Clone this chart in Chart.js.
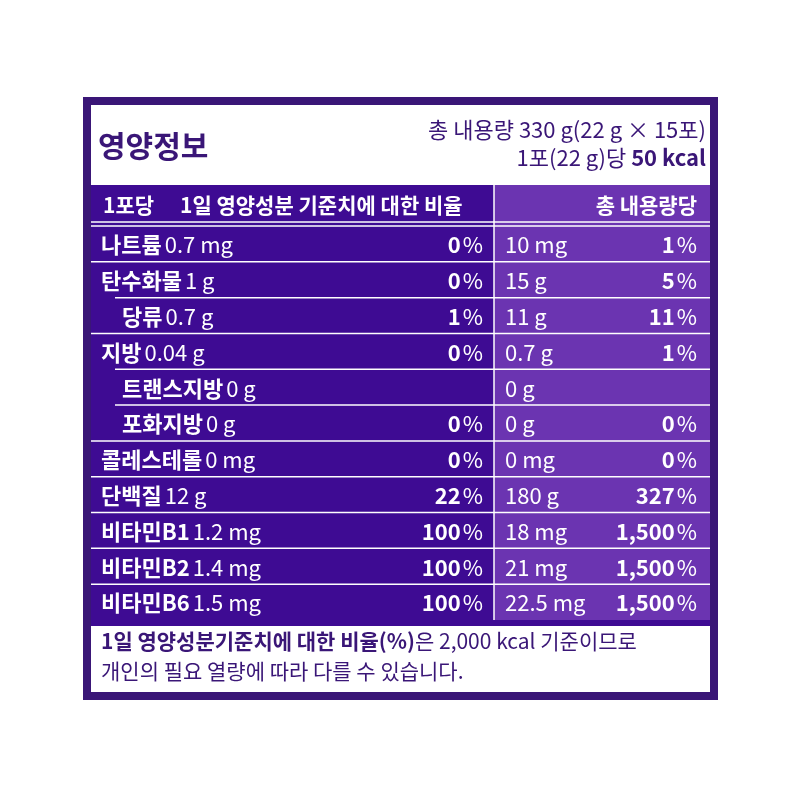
<!DOCTYPE html>
<html><head><meta charset="utf-8">
<script src="https://cdn.jsdelivr.net/npm/chart.js@4/dist/chart.umd.min.js"></script>
<style>html,body{margin:0;background:#fff}#w{width:800px;height:800px}</style>
</head><body><div id="w"><canvas id="c" width="800" height="800"></canvas></div>
<script>
const rowNames = ['나트륨','탄수화물','당류','지방','트랜스지방','포화지방','콜레스테롤','단백질','비타민B1','비타민B2','비타민B6'];
const perPackAmount = ['0.7 mg','1 g','0.7 g','0.04 g','0 g','0 g','0 mg','12 g','1.2 mg','1.4 mg','1.5 mg'];
const perPackPct = ['0','0','1','0','','0','0','22','100','100','100'];
const totalAmount = ['10 mg','15 g','11 g','0.7 g','0 g','0 g','0 mg','180 g','18 mg','21 mg','22.5 mg'];
const totalPct = ['1','5','11','1','','0','0','327','1,500','1,500','1,500'];
const subRow = [false,false,true,false,true,true,false,false,false,false,false];
const groupStart = [true,true,false,true,false,false,true,true,true,true,true];

const DARK='#3e0b93', LIGHT='#6b34b1', INK='#3a1677';
const F='"Noto Sans CJK KR","Noto Sans",sans-serif';

const tablePlugin = {
  id:'table',
  beforeDraw(chart){
    const ctx=chart.ctx, y=chart.scales.y;
    const L=91,R=710,M=494;
    ctx.save();
    ctx.fillStyle=INK; ctx.fillRect(83,97,635,603);
    ctx.fillStyle='#fff'; ctx.fillRect(91,105,619,587);
    ctx.fillStyle=INK; ctx.font='bold 30px '+F; ctx.textBaseline='middle'; ctx.textAlign='left';
    ctx.fillText('영양정보',98,146);
    ctx.textAlign='right'; ctx.font='22px '+F;
    ctx.fillText('총 내용량 330 g(22 g × 15포)',706,130);
    const k='50 kcal'; ctx.font='bold 22px '+F; const kw=ctx.measureText(k).width;
    ctx.fillText(k,706,158); ctx.font='22px '+F; ctx.fillText('1포(22 g)당 ',706-kw,158);
    const top=y.getPixelForValue(0)-y.height/22;
    const bot=y.getPixelForValue(10)+y.height/22;
    ctx.fillStyle=DARK; ctx.fillRect(L,185,M-L,top-185); ctx.fillStyle=LIGHT; ctx.fillRect(M,185,R-M,top-185);
    ctx.fillStyle=DARK; ctx.fillRect(L,top,M-L,bot-top); ctx.fillStyle=LIGHT; ctx.fillRect(M,top,R-M,bot-top);
    ctx.fillStyle=DARK; ctx.fillRect(L,bot,R-L,6);
    ctx.fillStyle='#fff'; ctx.font='bold 21px '+F; ctx.textAlign='left';
    ctx.fillText('1포당',103,205); ctx.fillText('1일 영양성분 기준치에 대한 비율',180,205);
    ctx.textAlign='right'; ctx.fillText('총 내용량당',697,205);
    ctx.strokeStyle='#fff'; ctx.lineWidth=1.5;
    ctx.beginPath(); ctx.moveTo(L,top-4); ctx.lineTo(R,top-4); ctx.stroke();
    ctx.beginPath(); ctx.moveTo(M,185); ctx.lineTo(M,bot); ctx.stroke();
    const rh=y.height/11;
    rowNames.forEach((n,i)=>{
      const cy=y.getPixelForValue(i);
      const ty=cy-rh/2;
      ctx.strokeStyle='#fff'; ctx.lineWidth=1.5;
      ctx.beginPath(); ctx.moveTo(groupStart[i]?L:115,ty); ctx.lineTo(R,ty); ctx.stroke();
      ctx.fillStyle='#fff'; ctx.textAlign='left';
      const x0=subRow[i]?122:101;
      ctx.font='bold 22px '+F; ctx.fillText(n,x0,cy+1);
      const w=ctx.measureText(n).width;
      ctx.font='22px '+F; ctx.fillText(perPackAmount[i],x0+w+3,cy+1);
      ctx.fillText(totalAmount[i],505,cy+1);
      ctx.textAlign='right';
      if(perPackPct[i]!==''){ctx.font='22px '+F; ctx.fillText('%',483,cy+1); const pw=ctx.measureText('%').width; ctx.font='bold 22px '+F; ctx.fillText(perPackPct[i],481-pw,cy+1);}
      if(totalPct[i]!==''){ctx.font='22px '+F; ctx.fillText('%',697,cy+1); const pw=ctx.measureText('%').width; ctx.font='bold 22px '+F; ctx.fillText(totalPct[i],695-pw,cy+1);}
    });
    ctx.fillStyle=INK; ctx.textAlign='left';
    const a='1일 영양성분기준치에 대한 비율(%)'; ctx.font='bold 21px '+F; ctx.fillText(a,101,641);
    const aw=ctx.measureText(a).width; ctx.font='21px '+F; ctx.fillText('은 2,000 kcal 기준이므로',101+aw,641);
    ctx.fillText('개인의 필요 열량에 따라 다를 수 있습니다.',101,671);
    ctx.restore();
  }
};

new Chart(document.getElementById('c'),{
  type:'bar',
  data:{labels:rowNames,datasets:[{data:rowNames.map(()=>0),backgroundColor:'rgba(0,0,0,0)'}]},
  options:{responsive:false,animation:false,indexAxis:'y',
    layout:{padding:{top:226,bottom:180,left:91,right:90}},
    plugins:{legend:{display:false},tooltip:{enabled:false}},
    scales:{x:{display:false,min:0,max:1},y:{display:false}}},
  plugins:[tablePlugin]
});
</script></body></html>
